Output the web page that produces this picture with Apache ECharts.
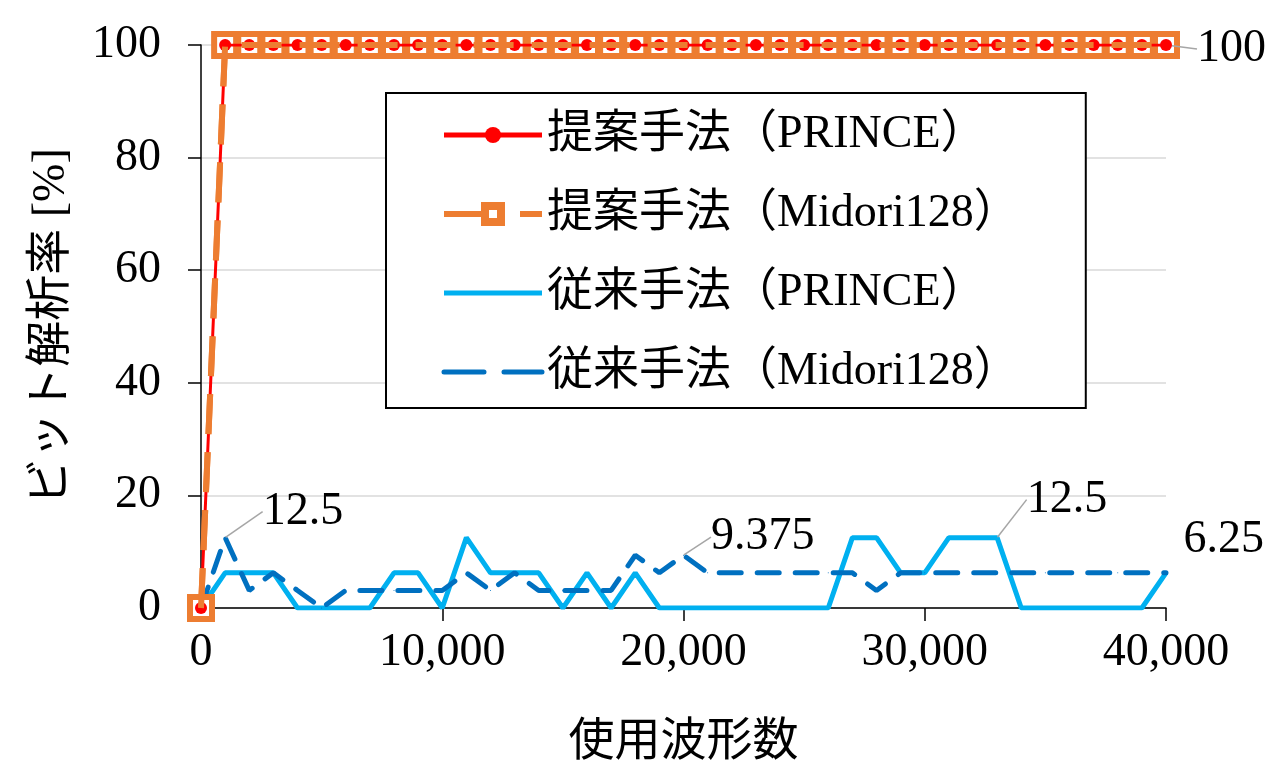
<!DOCTYPE html>
<html>
	<head>
		<meta charset="utf-8">
		<title>ビット解析率</title>
		<script src="https://cdn.jsdelivr.net/npm/echarts@6/dist/echarts.min.js"></script>
	</head>
	<body style="margin:0">
		<div id="main" style="width: 1280px; height: 775px;"></div>
		<script>
			// 使用波形数 (x)
			var waveCounts = [0, 1000, 2000, 3000, 4000, 5000, 6000, 7000, 8000, 9000,
				10000, 11000, 12000, 13000, 14000, 15000, 16000, 17000, 18000, 19000,
				20000, 21000, 22000, 23000, 24000, 25000, 26000, 27000, 28000, 29000,
				30000, 31000, 32000, 33000, 34000, 35000, 36000, 37000, 38000, 39000, 40000];
			// ビット解析率 [%]
			var proposedPrince = [0, 100, 100, 100, 100, 100, 100, 100, 100, 100,
				100, 100, 100, 100, 100, 100, 100, 100, 100, 100,
				100, 100, 100, 100, 100, 100, 100, 100, 100, 100,
				100, 100, 100, 100, 100, 100, 100, 100, 100, 100, 100];
			var proposedMidori = [0, 100, 100, 100, 100, 100, 100, 100, 100, 100,
				100, 100, 100, 100, 100, 100, 100, 100, 100, 100,
				100, 100, 100, 100, 100, 100, 100, 100, 100, 100,
				100, 100, 100, 100, 100, 100, 100, 100, 100, 100, 100];
			var convPrince = [0, 6.25, 6.25, 6.25, 0, 0, 0, 0, 6.25, 6.25,
				0, 12.5, 6.25, 6.25, 6.25, 0, 6.25, 0, 6.25, 0,
				0, 0, 0, 0, 0, 0, 0, 12.5, 12.5, 6.25,
				6.25, 12.5, 12.5, 12.5, 0, 0, 0, 0, 0, 0, 6.25];
			var convMidori = [0, 12.5, 3.125, 6.25, 3.125, 0, 3.125, 3.125, 3.125, 3.125,
				3.125, 6.25, 3.125, 6.25, 3.125, 3.125, 3.125, 3.125, 9.375, 6.25,
				9.375, 6.25, 6.25, 6.25, 6.25, 6.25, 6.25, 6.25, 3.125, 6.25,
				6.25, 6.25, 6.25, 6.25, 6.25, 6.25, 6.25, 6.25, 6.25, 6.25, 6.25];
			var names = ['提案手法（PRINCE）', '提案手法（Midori128）', '従来手法（PRINCE）', '従来手法（Midori128）'];

			var serif = "'Liberation Serif', 'Noto Sans CJK JP'";
			var guide = {show: true, lineStyle: {color: '#a6a6a6', width: 1.5}};

			// 値ラベル付きの点だけ label を持たせる
			var pairs = function(ys, labels){
				return ys.map(function(y, i){
					var item = {value: [waveCounts[i], y]};
					if(labels && labels[i]){
						item.label = {show: true};
						item.labelLine = labels[i] === 'line' ? guide : {show: false};
					}
					return item;
				});
			};
			var shift = function(offsets){
				return function(p){
					var o = offsets[p.dataIndex];
					return o ? {dx: o[0], dy: o[1]} : {};
				};
			};
			var labelStyle = {
				position: 'right',
				distance: 5,
				fontSize: 46,
				fontFamily: serif,
				color: '#000',
				formatter: function(p){ return p.value[1]; }
			};

			var mychart = echarts.init(document.getElementById('main'));
			var option = {
				backgroundColor: '#fff',
				animation: false,
				grid: {left: 201, right: 114, top: 45, bottom: 167},
				legend: {
					data: [
						{name: names[0], lineStyle: {width: 5}},
						{name: names[1], itemStyle: {borderWidth: 8}, lineStyle: {type: [60, 16]}},
						{name: names[2], itemStyle: {opacity: 0}},
						{name: names[3], itemStyle: {opacity: 0}, lineStyle: {type: [40, 20]}}
					],
					orient: 'vertical',
					left: 386,
					top: 93,
					backgroundColor: '#fff',
					borderColor: '#000',
					borderWidth: 2,
					borderRadius: 0,
					padding: [19, 66, 13, 55],
					itemWidth: 98,
					itemHeight: 20,
					itemGap: 33,
					lineStyle: {width: 'inherit'},
					textStyle: {fontSize: 46, lineHeight: 46, fontFamily: serif, color: '#000'}
				},
				xAxis: {
					type: 'value',
					min: 0, max: 40000, interval: 10000,
					name: '使用波形数',
					nameLocation: 'middle',
					nameGap: 112,
					nameTextStyle: {fontSize: 46, fontFamily: serif, color: '#000'},
					axisLine: {lineStyle: {color: '#000', width: 1.5}},
					axisTick: {show: true, length: 13, lineStyle: {color: '#000', width: 1.5}},
					axisLabel: {
						fontSize: 46, fontFamily: serif, color: '#000', margin: 22,
						formatter: function(v){ return v.toLocaleString('en-US'); }
					},
					splitLine: {show: false}
				},
				yAxis: {
					type: 'value',
					min: 0, max: 100, interval: 20,
					name: 'ビット解析率 [%]',
					nameLocation: 'middle',
					nameGap: 126,
					nameTextStyle: {fontSize: 46, fontFamily: serif, color: '#000'},
					axisLine: {show: true, lineStyle: {color: '#000', width: 1.5}},
					axisTick: {show: true, length: 13, lineStyle: {color: '#000', width: 1.5}},
					axisLabel: {fontSize: 46, fontFamily: serif, color: '#000', margin: 40},
					splitLine: {lineStyle: {color: '#d9d9d9', width: 1.5}}
				},
				series: [
					{
						name: names[2],
						type: 'line',
						z: 2,
						symbol: 'circle',
						symbolSize: 1,
						itemStyle: {color: '#00B0F0'},
						lineStyle: {color: '#00B0F0', width: 5},
						label: labelStyle,
						labelLayout: shift({33: [24, -38]}),
						data: pairs(convPrince, {33: 'line'})
					},
					{
						name: names[3],
						type: 'line',
						z: 3,
						symbol: 'circle',
						symbolSize: 1,
						itemStyle: {color: '#0070C0'},
						lineStyle: {color: '#0070C0', width: 5, type: [22, 16], cap: 'round'},
						label: labelStyle,
						labelLayout: shift({1: [32, -26], 20: [22, -18], 40: [12, -33]}),
						data: pairs(convMidori, {1: 'line', 20: 'line', 40: 'plain'})
					},
					{
						name: names[1],
						type: 'line',
						z: 4,
						symbol: 'rect',
						symbolSize: 22,
						itemStyle: {color: '#fff', borderColor: '#ED7D31', borderWidth: 6},
						lineStyle: {color: '#ED7D31', width: 6, type: [40, 18]},
						data: pairs(proposedMidori)
					},
					{
						name: names[0],
						type: 'line',
						z: 5,
						symbol: 'circle',
						symbolSize: 12,
						itemStyle: {color: '#FF0000'},
						lineStyle: {color: '#FF0000', width: 3},
						label: labelStyle,
						labelLayout: shift({40: [20, 4]}),
						data: pairs(proposedPrince, {40: 'line'})
					},
					{
						// 橙の破線を赤線の上に重ねる
						name: 'overlay',
						type: 'line',
						z: 6,
						silent: true,
						symbol: 'none',
						lineStyle: {color: '#ED7D31', width: 6, type: [40, 18]},
						data: pairs(proposedMidori)
					}
				]
			};
			mychart.setOption(option);
		</script>
	</body>
</html>
